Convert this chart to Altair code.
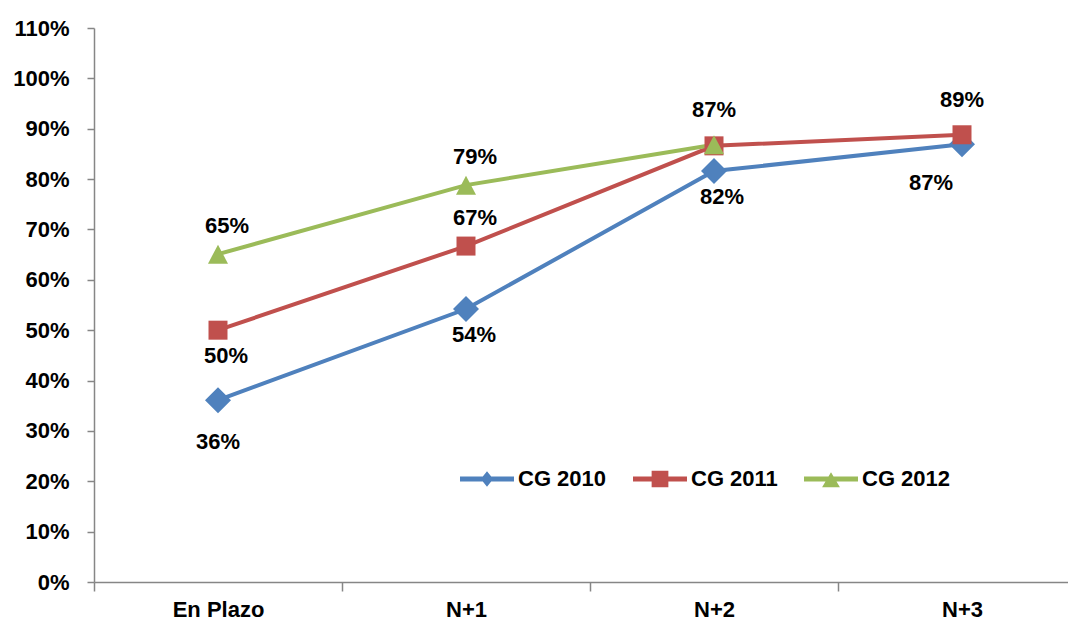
import json
import altair as alt
import pandas as pd

# ---- data ----
categories = ["En Plazo", "N+1", "N+2", "N+3"]
series_names = ["CG 2010", "CG 2011", "CG 2012"]
cg2010 = [0.361, 0.542, 0.816, 0.869]
cg2011 = [0.500, 0.667, 0.866, 0.888]
cg2012 = [0.651, 0.788, 0.868]
# where each value label sits relative to its point
label_pos_2010 = ["far-below", "below", "below", "below-left"]
label_pos_2011 = ["below", "above", "none", "above-high"]
label_pos_2012 = ["above", "above", "above-high"]
y_ticks = [0.0, 0.1, 0.2, 0.3, 0.4, 0.5, 0.6, 0.7, 0.8, 0.9, 1.0, 1.1]
colors = ["#4F81BD", "#C0504D", "#9BBB59"]

# ---- table ----
rows = []
for k, (s, vals, pos) in enumerate(zip(series_names,
                                       [cg2010, cg2011, cg2012],
                                       [label_pos_2010, label_pos_2011, label_pos_2012])):
    for i, v in enumerate(vals):
        rows.append({"series": s, "idx": i, "cat": categories[i], "value": v,
                     "pos": pos[i], "order": k})
df = pd.DataFrame(rows)

FONT = "Liberation Sans"
AXIS_GRAY = "#868686"
PLOT_W, PLOT_H = 974, 554
BAND = 248.0
X_MAX = -0.5 + PLOT_W / BAND

cat_js = json.dumps(categories)
x_axis = alt.Axis(
    values=[-0.5, 0.5, 1.5, 2.5, 0, 1, 2, 3],
    labelExpr=f"datum.value % 1 === 0 ? {cat_js}[datum.value] : ''",
    tickOpacity={"condition": {"test": "datum.value % 1 === 0", "value": 0}, "value": 1},
    labelOverlap=False, labelFlush=False, grid=False, title=None,
    tickSize=9, tickColor=AXIS_GRAY, tickWidth=1.5,
    domainColor=AXIS_GRAY, domainWidth=1.5,
    labelFont=FONT, labelFontSize=22, labelFontWeight="bold", labelColor="#000000",
    labelPadding=8,
)
y_axis = alt.Axis(
    values=y_ticks, format=".0%", grid=False, title=None,
    tickSize=7, tickColor=AXIS_GRAY, tickWidth=1.5,
    domainColor=AXIS_GRAY, domainWidth=1.5,
    labelFont=FONT, labelFontSize=22, labelFontWeight="bold", labelColor="#000000",
    labelPadding=18,
)

x_enc = alt.X("idx:Q", scale=alt.Scale(domain=[-0.5, X_MAX], nice=False, zero=False), axis=x_axis)
y_enc = alt.Y("value:Q", scale=alt.Scale(domain=[0, 1.1], nice=False, zero=True), axis=y_axis)
color_scale = alt.Scale(domain=series_names, range=colors)

base = alt.Chart(df)

lines = base.mark_line(strokeWidth=4).encode(
    x=x_enc, y=y_enc,
    color=alt.Color("series:N", scale=color_scale, legend=None),
    order=alt.Order("idx:Q"),
    detail="series:N",
)

marker_paths = [
    "M0,-1.3L1.3,0L0,1.3L-1.3,0Z",
    "M-0.95,-0.95H0.95V0.95H-0.95Z",
    "M0,-0.95L1,0.95L-1,0.95Z",
]
points = base.mark_point(filled=True, size=400, opacity=1, strokeWidth=0).encode(
    x=x_enc, y=y_enc,
    color=alt.Color("series:N", scale=color_scale, legend=None),
    shape=alt.Shape("series:N", scale=alt.Scale(domain=series_names, range=marker_paths), legend=None),
    order=alt.Order("order:Q"),
)

def labels(pos, dx, dy):
    return base.transform_filter(alt.datum.pos == pos).mark_text(
        font=FONT, fontSize=22, fontWeight="bold", color="#000000",
        dx=dx, dy=dy, align="center", baseline="middle",
    ).encode(x=x_enc, y=y_enc, text=alt.Text("value:Q", format=".0%"))

label_layers = [
    labels("above", 9, -28),
    labels("above-high", 0, -35),
    labels("below", 8, 26),
    labels("far-below", 0, 42),
    labels("below-left", -31, 39),
]

legend_paths = [
    "M-1,-0.09H1V0.09H-1Z M0,-0.29L0.23,0L0,0.29L-0.23,0Z",
    "M-1,-0.09H1V0.09H-1Z M-0.31,-0.31H0.31V0.31H-0.31Z",
    "M-1,-0.09H1V0.09H-1Z M0,-0.25L0.33,0.31L-0.33,0.31Z",
]
LEG_SIZE = 54 * 54
leg = alt.Legend(orient="none", legendX=366, legendY=424, direction="horizontal",
                 title=None, labelFont=FONT, labelFontSize=22,
                 labelFontWeight="bold", labelColor="#000000",
                 symbolSize=LEG_SIZE, symbolOpacity=1, symbolStrokeWidth=0,
                 labelOffset=4, columnPadding=26)
legend_layer = base.mark_point(filled=True, size=LEG_SIZE, opacity=0, strokeWidth=0).encode(
    x=x_enc, y=y_enc,
    color=alt.Color("series:N", scale=color_scale, legend=leg),
    shape=alt.Shape("series:N", scale=alt.Scale(domain=series_names, range=legend_paths), legend=leg),
)

chart = alt.layer(
    lines, points, *label_layers, legend_layer
).resolve_scale(
    color="independent", shape="independent"
).properties(
    width=PLOT_W, height=PLOT_H,
    autosize=alt.AutoSizeParams(type="none"),
    padding={"left": 86, "top": 20, "right": 0, "bottom": 40},
    background="#ffffff",
).configure_view(stroke=None)

chart.save("out.html", embed_options={"renderer": "svg", "actions": False})
